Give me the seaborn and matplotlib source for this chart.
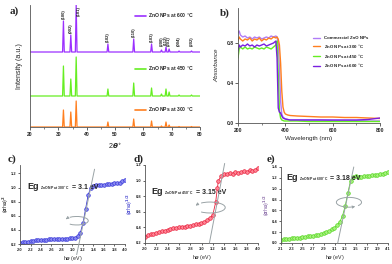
import numpy as np
import pandas as pd
import matplotlib
matplotlib.use('Agg')
import matplotlib.pyplot as plt
from matplotlib.patches import Arc
import seaborn as sns

# ---------------- datos ----------------
# a) XRD: posiciones de picos (2theta) e intensidades relativas
planos = ['(100)', '(002)', '(101)', '(102)', '(110)', '(103)', '(200)', '(112)', '(201)', '(004)', '(202)']
dos_theta = [31.8, 34.4, 36.3, 47.5, 56.6, 62.9, 66.4, 68.0, 69.1, 72.6, 77.0]
int_600 = [31, 17, 47, 8, 13, 8, 2, 5, 3, 1, 1]
int_450 = [30, 17, 39, 7, 13, 8, 2, 7, 4, 1, 1]
int_300 = [17, 15, 26, 5, 8, 6, 1, 5, 2, 0.5, 0.5]

# b) UV-vis
wl = [200, 205, 210, 220, 230, 240, 250, 260, 270, 280, 290, 300, 310, 320, 330, 340, 350, 360,
      365, 370, 375, 380, 385, 390, 395, 400, 410, 420, 450, 500, 550, 600, 650, 700, 750, 800]
abs_com = [0.90, 0.92, 0.88, 0.86, 0.87, 0.85, 0.86, 0.84, 0.86, 0.85, 0.86, 0.84, 0.85, 0.86, 0.85, 0.87, 0.86, 0.87,
           0.86, 0.80, 0.55, 0.22, 0.09, 0.06, 0.05, 0.04, 0.035, 0.03, 0.03, 0.03, 0.03, 0.025, 0.025, 0.025, 0.02, 0.02]
abs_300 = [0.82, 0.86, 0.84, 0.82, 0.84, 0.83, 0.85, 0.82, 0.84, 0.83, 0.85, 0.82, 0.84, 0.83, 0.85, 0.84, 0.86, 0.85,
           0.86, 0.84, 0.78, 0.60, 0.32, 0.16, 0.11, 0.09, 0.08, 0.075, 0.07, 0.065, 0.06, 0.06, 0.055, 0.055, 0.05, 0.045]
abs_450 = [0.65, 0.74, 0.76, 0.74, 0.76, 0.74, 0.75, 0.74, 0.76, 0.75, 0.74, 0.75, 0.74, 0.76, 0.75, 0.74, 0.76, 0.78,
           0.82, 0.50, 0.12, 0.05, 0.03, 0.025, 0.02, 0.02, 0.02, 0.02, 0.02, 0.015, 0.015, 0.015, 0.015, 0.015, 0.015, 0.015]
abs_600 = [0.72, 0.78, 0.76, 0.78, 0.77, 0.79, 0.77, 0.78, 0.76, 0.78, 0.77, 0.78, 0.79, 0.77, 0.78, 0.79, 0.80, 0.82,
           0.65, 0.15, 0.11, 0.10, 0.07, 0.05, 0.045, 0.04, 0.035, 0.03, 0.03, 0.03, 0.03, 0.03, 0.03, 0.03, 0.035, 0.05]
series_b = ['Commercial ZnO NPs', 'ZnO NPs at 300 $^{\\circ}$C', 'ZnO NPs at 450 $^{\\circ}$C', 'ZnO NPs at 600 $^{\\circ}$C']

# c) Tauc 300 C
hv_c = [2.00, 2.05, 2.10, 2.15, 2.20, 2.25, 2.30, 2.35, 2.40, 2.45, 2.50, 2.55, 2.60, 2.65, 2.70, 2.75, 2.80,
        2.85, 2.90, 2.95, 3.00, 3.05, 3.10, 3.15, 3.20, 3.25, 3.30, 3.35, 3.40, 3.45, 3.50, 3.55, 3.60, 3.65,
        3.70, 3.75, 3.80, 3.85, 3.90, 3.95, 4.00]
ahv_c = [0.22, 0.225, 0.23, 0.235, 0.24, 0.245, 0.25, 0.25, 0.255, 0.26, 0.26, 0.265, 0.265, 0.27, 0.27, 0.27, 0.27,
         0.275, 0.275, 0.28, 0.28, 0.29, 0.31, 0.36, 0.50, 0.70, 0.90, 1.00, 1.02, 1.03, 1.03, 1.04, 1.04, 1.05,
         1.05, 1.05, 1.06, 1.06, 1.07, 1.09, 1.11]
# d) Tauc 450 C
hv_d = [2.00, 2.05, 2.10, 2.15, 2.20, 2.25, 2.30, 2.35, 2.40, 2.45, 2.50, 2.55, 2.60, 2.65, 2.70, 2.75, 2.80,
        2.85, 2.90, 2.95, 3.00, 3.05, 3.10, 3.15, 3.20, 3.25, 3.28, 3.30, 3.35, 3.40, 3.45, 3.50, 3.55, 3.60,
        3.65, 3.70, 3.75, 3.80, 3.85, 3.90, 3.95, 4.00]
ahv_d = [0.28, 0.30, 0.31, 0.32, 0.33, 0.34, 0.35, 0.36, 0.37, 0.38, 0.39, 0.39, 0.40, 0.41, 0.41, 0.42, 0.42,
         0.43, 0.44, 0.44, 0.45, 0.47, 0.49, 0.52, 0.56, 0.72, 0.90, 1.00, 1.06, 1.09, 1.08, 1.10, 1.09, 1.11,
         1.10, 1.11, 1.12, 1.11, 1.13, 1.12, 1.14, 1.16]
# e) Tauc 600 C
hv_e = [2.10, 2.15, 2.20, 2.25, 2.30, 2.35, 2.40, 2.45, 2.50, 2.55, 2.60, 2.65, 2.70, 2.75, 2.80, 2.85, 2.90,
        2.95, 3.00, 3.05, 3.10, 3.15, 3.20, 3.25, 3.30, 3.35, 3.40, 3.45, 3.50, 3.55, 3.60, 3.65, 3.70, 3.75,
        3.80, 3.85, 3.90, 3.95, 4.00, 4.05, 4.10]
ahv_e = [0.06, 0.07, 0.08, 0.08, 0.09, 0.09, 0.10, 0.10, 0.11, 0.11, 0.12, 0.13, 0.13, 0.14, 0.15, 0.16, 0.18,
         0.20, 0.22, 0.25, 0.28, 0.33, 0.39, 0.50, 0.68, 0.92, 1.15, 1.22, 1.24, 1.21, 1.22, 1.23, 1.23, 1.24,
         1.25, 1.25, 1.26, 1.27, 1.28, 1.29, 1.30]

# ---------------- estilo ----------------
sns.set_style('ticks')
plt.rcParams['font.family'] = ['Liberation Sans', 'DejaVu Sans']
plt.rcParams['font.weight'] = 'bold'
plt.rcParams['axes.linewidth'] = 0.6
plt.rcParams['axes.edgecolor'] = '#555555'
plt.rcParams['xtick.major.size'] = 2
plt.rcParams['ytick.major.size'] = 2
plt.rcParams['xtick.minor.size'] = 1.2
plt.rcParams['xtick.major.width'] = 0.5
plt.rcParams['ytick.major.width'] = 0.5
plt.rcParams['xtick.minor.width'] = 0.4
plt.rcParams['xtick.major.pad'] = 1.5
plt.rcParams['ytick.major.pad'] = 1.2

W, H = 392, 264
fig = plt.figure(figsize=(W / 100, H / 100), dpi=100)


def caja(l, r, t, b):
    return fig.add_axes([l / W, 1 - b / H, (r - l) / W, (b - t) / H])


c_morado = '#9b30ff'
c_verde = '#66ee22'
c_naranja = '#ff7f1f'
gris = '#9aa3a6'
fs_tick = 3.6

# ---------------- a) XRD ----------------
ax = caja(30, 200, 5, 127)


def patron(intens, base):
    xs, ys = [20], [base]
    for p, h in zip(dos_theta, intens):
        xs += [p - 0.3, p, p + 0.3]
        ys += [base, base + h, base]
    xs.append(80)
    ys.append(base)
    return xs, ys


for intens, base, col, lab, ly in [(int_300, 0, c_naranja, '300', 17),
                                   (int_450, 31, c_verde, '450', 58),
                                   (int_600, 75, c_morado, '600', 111)]:
    xs, ys = patron(intens, base)
    sns.lineplot(x=xs, y=ys, ax=ax, color=col, lw=0.9, estimator=None)
    ax.plot([57.0, 61.0], [ly, ly], color=col, lw=1.2)
    ax.text(61.6, ly, 'ZnO NPs at %s $^{\\circ}$C' % lab, fontsize=3.6, va='center')

for p, h, lab in zip(dos_theta, int_600, planos):
    if lab == '(101)':
        ax.text(p + 1.0, 121, lab, rotation=90, fontsize=3.0, ha='center', va='top')
    else:
        ax.text(p, max(75 + h + 2, 81), lab, rotation=90, fontsize=3.0, ha='center', va='bottom')

ax.set_xlim(20, 80)
ax.set_ylim(0, 122)
ax.set_xticks([20, 30, 40, 50, 60, 70, 80])
ax.set_xticks(np.arange(20, 81, 5), minor=True)
ax.set_yticks([])
ax.tick_params(labelsize=fs_tick)
ax.set_xlabel('2$\\theta$$^{\\circ}$', fontsize=5.2, labelpad=3)
ax.set_ylabel('Intensity (a.u.)', fontsize=5.2, labelpad=5)
sns.despine(ax=ax)
fig.text(10 / W, 1 - 14 / H, 'a)', fontsize=8, fontweight='bold', family='Liberation Serif')

# ---------------- b) UV-vis ----------------
ax = caja(238, 380, 8, 123)
df_b = pd.DataFrame({'wl': wl * 4,
                     'abs': abs_com + abs_300 + abs_450 + abs_600,
                     'serie': sum([[s] * len(wl) for s in series_b], [])})
sns.lineplot(data=df_b, x='wl', y='abs', hue='serie', ax=ax, lw=1.0, estimator=None,
             palette=['#b07cf7', c_naranja, c_verde, '#7a1fe0'])
ax.set_xlim(200, 800)
ax.set_ylim(0, 1.15)
ax.set_xticks([200, 400, 600, 800])
ax.set_xticks(np.arange(200, 801, 100), minor=True)
ax.set_yticks([0.0, 0.4, 0.8])
ax.set_yticklabels(['0.0', '0.4', '0.8'])
ax.tick_params(labelsize=fs_tick)
ax.set_xlabel('Wavelength (nm)', fontsize=4.5, labelpad=2)
ax.set_ylabel('Absorbance', fontsize=4.5, style='italic', labelpad=5)
ax.legend(loc='upper left', bbox_to_anchor=(0.5, 0.79), fontsize=3.2, frameon=False,
          handlelength=1.6, labelspacing=0.6, title=None)
sns.despine(ax=ax)
fig.text(220 / W, 1 - 16 / H, 'b)', fontsize=8, fontweight='bold', family='Liberation Serif')


# ---------------- c, d, e) Tauc ----------------
def tauc(ax, hv, ahv, col, fcol, xl, yl, xt, yt, ylab, ylab_col, tang, elip, flecha, eg_xy, temp, eg):
    sns.lineplot(x=hv, y=ahv, ax=ax, color=col, lw=0.6, marker='o', markersize=2.6,
                 markerfacecolor=fcol, markeredgecolor=col, markeredgewidth=0.5, estimator=None)
    ax.plot(tang[0], tang[1], color=gris, lw=0.7, clip_on=False, zorder=5)
    (cx, cy), w, h = elip
    ax.add_patch(Arc((cx, cy), w, h, theta1=flecha[0], theta2=flecha[1], color=gris, lw=0.7, zorder=6))
    t_end = np.radians(flecha[1])
    t_pre = np.radians(flecha[1] - 12)
    ax.annotate('', xy=(cx + w / 2 * np.cos(t_end), cy + h / 2 * np.sin(t_end)),
                xytext=(cx + w / 2 * np.cos(t_pre), cy + h / 2 * np.sin(t_pre)),
                arrowprops=dict(arrowstyle='-|>', color=gris, lw=0.6, mutation_scale=4))
    t1 = ax.text(eg_xy[0], eg_xy[1], 'Eg', fontsize=6.5, fontweight='bold')
    t2 = ax.annotate('ZnO NP at %s $^{\\circ}$C' % temp, xy=(1, 0), xycoords=t1, xytext=(0.5, 0),
                     textcoords='offset points', fontsize=2.4, va='bottom')
    ax.annotate('= %s eV' % eg, xy=(1, 0), xycoords=t2, xytext=(1.5, 0), textcoords='offset points',
                fontsize=5, fontweight='bold', va='bottom')
    ax.set_xlim(*xl)
    ax.set_ylim(*yl)
    ax.set_xticks(xt)
    ax.set_xticklabels(['%.1f' % v for v in xt])
    ax.set_yticks(yt)
    ax.set_yticklabels(['%.1f' % v for v in yt])
    ax.tick_params(labelsize=2.9, length=1.5)
    ax.set_xlabel('h$\\upsilon$ (eV)', fontsize=3.8, labelpad=1.5)
    ax.set_ylabel(ylab, fontsize=3.8, color=ylab_col)
    ax.yaxis.set_label_coords(-0.085, 0.5)
    sns.despine(ax=ax)


ax = caja(20, 125, 165, 244)
tauc(ax, hv_c, ahv_c, '#3434d8', '#8c8cf0', (2.0, 4.0), (0.2, 1.32),
     np.arange(2.0, 4.01, 0.2), np.arange(0.2, 1.21, 0.2), '($\\alpha$h$\\upsilon$)$^{2}$', '#333333',
     ([3.08, 3.42], [0.05, 1.26]), ((3.08, 0.53), 0.44, 0.12), (200, 520), (2.15, 0.98), '300', '3.1')
fig.text(8 / W, 1 - 162 / H, 'c)', fontsize=8, fontweight='bold', family='Liberation Serif')

ax = caja(145, 258, 165, 243)
tauc(ax, hv_d, ahv_d, '#e8203c', '#ff8898', (2.0, 4.0), (0.2, 1.2),
     np.arange(2.0, 4.01, 0.2), np.arange(0.2, 1.21, 0.2), '($\\alpha$h$\\upsilon$)$^{1/2}$', '#4a4ad0',
     ([3.14, 3.41], [0.2, 1.22]), ((3.15, 0.655), 0.54, 0.14), (200, 520), (2.12, 0.83), '450', '3.15')
fig.text(134 / W, 1 - 162 / H, 'd)', fontsize=8, fontweight='bold', family='Liberation Serif')

ax = caja(281, 388, 167, 243)
tauc(ax, hv_e, ahv_e, '#55d820', '#a8f080', (2.1, 4.1), (0.0, 1.4),
     np.arange(2.1, 4.11, 0.2), np.arange(0.0, 1.41, 0.2), '($\\alpha$h$\\upsilon$)$^{1/2}$', '#8a6aa8',
     ([3.16, 3.46], [0.0, 1.4]), ((3.37, 0.75), 0.47, 0.18), (-20, 300), (2.2, 1.16), '600', '3.18')
fig.text(267 / W, 1 - 162 / H, 'e)', fontsize=8, fontweight='bold', family='Liberation Serif')

fig.savefig('out.png', dpi=100)
